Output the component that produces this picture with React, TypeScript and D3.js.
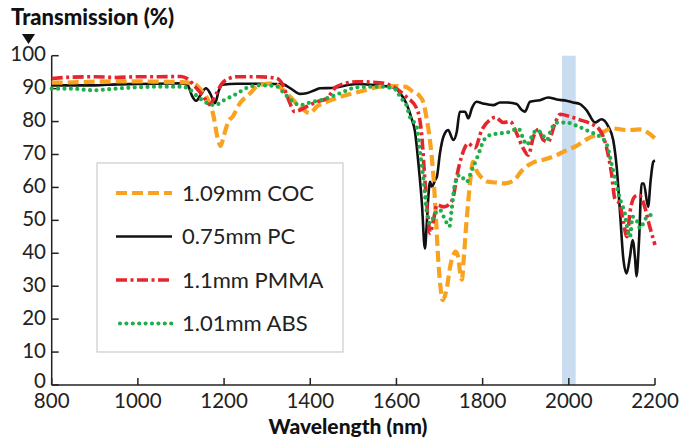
import React from 'react';
import * as d3 from 'd3';

// wavelength (nm), transmission (%)
const cocData: [number, number][] = [
  [800, 91.8], [850, 91.9], [900, 92.1], [950, 92.2], [1000, 92.2], [1050, 92.1], [1100, 92.0],
  [1130, 91.5], [1150, 89], [1165, 86], [1175, 82], [1185, 75], [1192, 72.6], [1200, 76],
  [1210, 80], [1220, 81.5], [1237, 85.6], [1260, 88.5], [1280, 91], [1313, 91.6], [1337, 89.6],
  [1350, 88], [1368, 85.5], [1385, 83.5], [1399, 82.5], [1415, 84.5], [1438, 86], [1469, 87.5],
  [1500, 88.6], [1531, 89.6], [1562, 90.6], [1592, 90.8], [1620, 90.6], [1639, 89], [1652, 88],
  [1662, 86], [1670, 81], [1678, 74], [1686, 63], [1692, 50], [1697, 38], [1702, 30], [1707, 25.8],
  [1717, 29.5], [1724, 35.5], [1732, 39.5], [1737, 40.5], [1743, 39], [1748, 34], [1752, 32],
  [1756, 38], [1761, 47], [1767, 56.2], [1772, 63], [1778, 67.8], [1786, 65], [1794, 63.5],
  [1810, 61.8], [1830, 61.5], [1850, 61.2], [1871, 62], [1894, 65.5], [1918, 67.6], [1941, 68.4],
  [1972, 69.8], [1995, 71.3], [2018, 72.6], [2041, 74.6], [2072, 76.4], [2103, 77.9], [2134, 77.4],
  [2165, 77.6], [2184, 76.6], [2200, 74.9],
];

const pcData: [number, number][] = [
  [800, 91.0], [850, 91.0], [900, 91.0], [950, 91.3], [1000, 91.4], [1050, 91.5], [1100, 91.6],
  [1115, 91.2], [1125, 88], [1135, 86.3], [1145, 88], [1158, 90.1], [1168, 88.5], [1179, 85.6],
  [1188, 89.5], [1196, 91.2], [1230, 91.5], [1300, 91.5], [1337, 91.3], [1355, 90], [1376, 88.4],
  [1391, 88.6], [1410, 89.5], [1423, 90.1], [1450, 90.2], [1469, 90.6], [1508, 91.4], [1546, 91.1],
  [1592, 90.4], [1608, 88.7], [1623, 85.5], [1635, 81], [1643, 77], [1651, 67.3], [1659, 55.3],
  [1666, 41.5], [1670, 48], [1674, 57.2], [1678, 61.7], [1682, 60.2], [1690, 62.3], [1694, 63.3],
  [1701, 70.4], [1709, 75.4], [1720, 77.4], [1732, 74.4], [1740, 76.9], [1747, 83], [1759, 83],
  [1767, 81], [1775, 84], [1786, 86], [1801, 85.5], [1825, 85], [1840, 85.8], [1856, 85.8],
  [1879, 85.3], [1891, 83.5], [1898, 83], [1910, 86], [1933, 86.5], [1952, 87.3], [1972, 86.7],
  [1995, 86.3], [2010, 85.8], [2026, 85.3], [2041, 83.5], [2061, 79.7], [2076, 80.7], [2092, 78.4],
  [2103, 74.4], [2111, 66.3], [2119, 52.1], [2126, 39], [2134, 33.9], [2142, 39], [2148, 44],
  [2154, 38], [2157, 33], [2163, 44], [2169, 61.2], [2174, 61.2], [2184, 54.1], [2190, 62.3],
  [2196, 67.8], [2200, 68.2],
];

const pmmaData: [number, number][] = [
  [800, 93.1], [850, 93.5], [900, 93.6], [950, 93.4], [1000, 93.6], [1050, 93.6], [1100, 93.7],
  [1115, 93], [1130, 91], [1150, 88], [1167, 85.2], [1180, 88], [1195, 91.5], [1210, 93],
  [1230, 93.6], [1280, 93.6], [1320, 93.2], [1335, 91.5], [1350, 86.5], [1364, 83.0], [1391, 84.5],
  [1415, 86], [1438, 87], [1461, 90.6], [1508, 92.1], [1562, 91.8], [1592, 90.6], [1623, 87.5],
  [1647, 84], [1659, 75.4], [1666, 62.3], [1674, 50.1], [1678, 46.1], [1686, 50.1], [1694, 54.7],
  [1709, 54.1], [1724, 55.1], [1732, 57.2], [1740, 63.3], [1751, 69.3], [1767, 73.4], [1775, 72.5],
  [1782, 72], [1798, 77.4], [1817, 80.5], [1829, 81.3], [1848, 79.7], [1864, 80], [1879, 76.4],
  [1894, 71.9], [1906, 69.8], [1918, 75.4], [1929, 77.6], [1941, 74.4], [1952, 73.9], [1968, 79.5],
  [1980, 82.2], [2003, 81.5], [2026, 80.5], [2049, 79.5], [2072, 77.4], [2087, 72.4], [2099, 64.3],
  [2107, 56.5], [2118, 55], [2126, 50], [2135, 45], [2142, 52.5], [2153, 57.2], [2163, 57.7],
  [2174, 55], [2188, 48], [2200, 42.5],
];

const absData: [number, number][] = [
  [800, 90.0], [850, 90.0], [880, 89.6], [900, 89.5], [930, 89.8], [960, 90.1], [1000, 90.4],
  [1050, 90.6], [1100, 90.6], [1115, 90.2], [1135, 88], [1155, 86], [1179, 85], [1200, 86.5],
  [1230, 88.5], [1252, 90.2], [1280, 91], [1320, 90.8], [1340, 88.5], [1360, 86], [1376, 85],
  [1400, 85.8], [1430, 86.7], [1469, 88.6], [1508, 90.4], [1562, 90.6], [1600, 89.6], [1608, 87.5],
  [1623, 85], [1631, 81.5], [1647, 78.4], [1655, 70.4], [1663, 62.3], [1670, 53.1], [1678, 49.1],
  [1690, 52.1], [1701, 53.1], [1713, 50.1], [1723, 48.1], [1728, 53.1], [1736, 61.2], [1747, 63.8],
  [1763, 61.7], [1775, 65.3], [1786, 68.6], [1794, 71.4], [1801, 73.9], [1817, 75.9], [1840, 76.4],
  [1864, 76.9], [1883, 77.9], [1894, 74.9], [1902, 72.9], [1914, 75.4], [1925, 77.4], [1937, 76.4],
  [1949, 74.4], [1960, 77.9], [1972, 79.7], [1995, 79.7], [2018, 78.7], [2049, 76.9], [2072, 75.4],
  [2087, 73.4], [2099, 67.3], [2111, 60.2], [2122, 55.2], [2130, 52.1], [2135, 48.1], [2142, 45],
  [2148, 51.1], [2157, 50.1], [2166, 47.5], [2176, 50.1], [2188, 51.6], [2200, 51.3],
];

const seriesNames = ['1.09mm COC', '0.75mm PC', '1.1mm PMMA', '1.01mm ABS'];
const xTicks = [800, 1000, 1200, 1400, 1600, 1800, 2000, 2200];
const yTicks = [0, 10, 20, 30, 40, 50, 60, 70, 80, 90, 100];
const band = [1984, 2016];

const FONT = 'Lato, "Noto Sans", sans-serif';

const styles = [
  { color: '#F8A21F', width: 4.2, dash: '11,5', cap: 'butt' },
  { color: '#111111', width: 2.6, dash: 'none', cap: 'butt' },
  { color: '#E5262D', width: 3.6, dash: '11,3.5,3,3.5', cap: 'butt' },
  { color: '#1FAE4B', width: 4.2, dash: '0,6.4', cap: 'round' },
];

export default function App() {
  const width = 681;
  const height = 438;

  const x = d3.scaleLinear().domain([800, 2200]).range([51.7, 655]);
  const y = d3.scaleLinear().domain([0, 100]).range([385, 55.7]);

  const line = d3
    .line<[number, number]>()
    .x((d) => x(d[0]))
    .y((d) => y(d[1]))
    .curve(d3.curveMonotoneX);

  const allData = [cocData, pcData, pmmaData, absData];
  // drawing order: PC, COC, PMMA, ABS
  const order = [1, 0, 2, 3];

  return (
    <svg
      width={width}
      height={height}
      style={{ position: 'absolute', left: 0, top: 0, background: '#fff' }}
    >
      {/* highlighted band */}
      <rect
        x={x(band[0])}
        y={y(100)}
        width={x(band[1]) - x(band[0])}
        height={y(0) - y(100)}
        fill="#CADCF0"
      />

      {/* axes */}
      <g stroke="#222" strokeWidth={1.5} fill="none">
        <line x1={x(800)} x2={x(800)} y1={y(100)} y2={y(0)} />
        <line x1={x(800)} x2={x(2200)} y1={y(0)} y2={y(0)} />
        {yTicks.map((t) => (
          <line key={t} x1={x(800)} x2={x(800) + 7} y1={y(t)} y2={y(t)} />
        ))}
        {xTicks.map((t) => (
          <line key={t} x1={x(t)} x2={x(t)} y1={y(0)} y2={y(0) - 7} />
        ))}
      </g>
      <g fontFamily={FONT} fontSize={20.5} fill="#222">
        {yTicks.map((t) => (
          <text key={t} x={46} y={y(t) - (t === 0 ? 4 : 1.5)} dy="0.35em" textAnchor="end">
            {t}
          </text>
        ))}
        {xTicks.map((t) => (
          <text key={t} x={x(t)} y={407.5} textAnchor="middle">
            {t}
          </text>
        ))}
      </g>

      {/* titles */}
      <text x={11} y={25} fontFamily={FONT} fontWeight={900} fontSize={22} fill="#111">
        Transmission (%)
      </text>
      <path d="M22,34 L35,34 L28.5,44 Z" fill="#111" />
      <text
        x={348}
        y={433.5}
        textAnchor="middle"
        fontFamily={FONT}
        fontWeight={900}
        fontSize={21}
        fill="#111"
      >
        Wavelength (nm)
      </text>

      {/* series */}
      {order.map((i) => (
        <path
          key={i}
          d={line(allData[i]) || ''}
          fill="none"
          stroke={styles[i].color}
          strokeWidth={styles[i].width}
          strokeDasharray={styles[i].dash}
          strokeLinecap={styles[i].cap as any}
          strokeLinejoin="round"
        />
      ))}

      {/* legend */}
      <rect x={97} y={163} width={246} height={189} fill="#fff" stroke="#ccc" strokeWidth={1.2} />
      {seriesNames.map((name, i) => {
        const ly = 193 + i * 43.5;
        return (
          <g key={name}>
            <line
              x1={i === 3 ? 120 : 116}
              x2={172}
              y1={ly}
              y2={ly}
              stroke={styles[i].color}
              strokeWidth={styles[i].width}
              strokeDasharray={styles[i].dash}
              strokeLinecap={styles[i].cap as any}
            />
            <text x={182} y={ly} dy="0.36em" fontFamily={FONT} fontSize={22} fill="#222">
              {name}
            </text>
          </g>
        );
      })}
    </svg>
  );
}
